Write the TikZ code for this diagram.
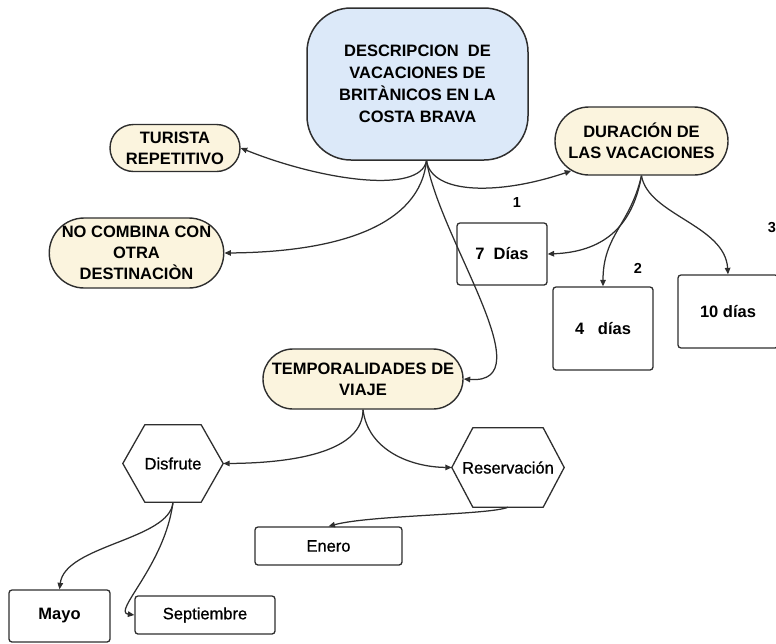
\documentclass[tikz,border=0pt]{standalone}
\usepackage{fontspec}
\setmainfont{Liberation Sans}
\newfontfamily\medfont[FakeBold=0.8]{Liberation Sans}
\usetikzlibrary{arrows.meta,shapes.misc,calc}
\definecolor{edgec}{HTML}{2E2E2E}
\definecolor{mainfill}{HTML}{DCE9F9}
\definecolor{creamfill}{HTML}{FBF4DE}
\begin{document}
\begin{tikzpicture}[x=1pt,y=-1pt,
  mainbox/.style={rectangle, rounded corners=44pt, draw=edgec, line width=1.5pt, fill=mainfill,
    minimum width=221pt, minimum height=152pt, inner sep=0pt, align=center,
    font=\fontsize{16.5}{22}\selectfont\bfseries},
  stad/.style={rounded rectangle, draw=edgec, line width=1.4pt, fill=creamfill, align=center,
    inner sep=0pt, font=\fontsize{16.5}{21}\selectfont\bfseries},
  daybox/.style={rectangle, rounded corners=3pt, draw=edgec, line width=1.3pt, inner sep=0pt,
    font=\fontsize{16.5}{20}\selectfont\bfseries},
  plainbox/.style={rectangle, rounded corners=3pt, draw=edgec, line width=1.3pt, inner sep=0pt,
    font=\fontsize{16.5}{20}\selectfont\medfont},
  hexn/.style={rectangle, draw=none, inner sep=0pt, font=\fontsize{16.5}{20}\selectfont\medfont},
  hexline/.style={draw=edgec, line width=1.3pt, line join=round},
  numlab/.style={inner sep=0pt, font=\fontsize{14.5}{16}\selectfont\bfseries},
  conn/.style={draw=edgec, line width=1.25pt, -{Triangle[length=6.5pt,width=5.5pt]}}
]
\useasboundingbox (0,0) rectangle (776,643);

% nodes
\node[mainbox] (main) at (417.5,84) {DESCRIPCION\ \ DE\\VACACIONES DE\\BRITÀNICOS EN LA\\COSTA BRAVA};
\node[stad, minimum width=130pt, minimum height=47pt] (tur) at (175,148) {TURISTA\\REPETITIVO};
\node[stad, minimum width=173pt, minimum height=70pt] (noc) at (136.5,253) {NO COMBINA CON\\OTRA\\DESTINACIÒN};
\node[stad, minimum width=173pt, minimum height=68pt] (dur) at (641.5,141) {DURACIÓN DE\\LAS VACACIONES};
\node[daybox, minimum width=90pt, minimum height=62pt] (d7) at (502,254) {7\ \ Días};
\node[daybox, minimum width=100pt, minimum height=83pt] (d4) at (603,328.5) {4\ \ \ días};
\node[daybox, minimum width=100pt, minimum height=73pt] (d10) at (728,311.5) {10 días};
\node[numlab] (n1) at (517,203) {1};
\node[numlab] (n2) at (638,268) {2};
\node[numlab] (n3) at (772,228) {3};
\node[stad, minimum width=200pt, minimum height=60pt] (temp) at (363,379) {TEMPORALIDADES DE\\VIAJE};

\node[hexn, minimum width=100pt, minimum height=77pt] (dis) at (173,463.5) {Disfrute};
\draw[hexline] (dis.west) -- ([xshift=22pt]dis.north west) -- ([xshift=-22pt]dis.north east)
  -- (dis.east) -- ([xshift=-22pt]dis.south east) -- ([xshift=22pt]dis.south west) -- cycle;
\node[hexn, minimum width=112pt, minimum height=79pt] (res) at (508,467.5) {Reservación};
\draw[hexline] (res.west) -- ([xshift=21pt]res.north west) -- ([xshift=-21pt]res.north east)
  -- (res.east) -- ([xshift=-21pt]res.south east) -- ([xshift=21pt]res.south west) -- cycle;

\node[plainbox, minimum width=147pt, minimum height=38pt] (ene) at (328.5,546) {Enero};
\node[daybox, minimum width=101pt, minimum height=52pt] (may) at (59.5,616) {Mayo};
\node[plainbox, minimum width=140pt, minimum height=38pt] (sep) at (205,615) {Septiembre};

% connectors
\coordinate (mj) at ([xshift=9pt]main.south);
\draw[conn] (mj) .. controls (420,195) and (320,180) .. (tur.east);
\draw[conn] (mj) .. controls (420,225) and (340,252) .. (noc.east);
\draw[conn] (mj) .. controls (432,195) and (500,195) .. (dur.203);
\draw[conn] (mj) .. controls (440,240) and (545,385) .. (temp.east);

\draw[conn] (dur.south) .. controls (632,230) and (600,252) .. (d7.east);
\draw[conn] (dur.south) .. controls (630,225) and (603,235) .. (d4.north);
\draw[conn] (dur.south) .. controls (648,215) and (725,225) .. (d10.north);

\draw[conn] (temp.south) .. controls (363,450) and (300,463) .. (dis.east);
\draw[conn] (temp.south) .. controls (368,450) and (410,467) .. (res.west);

\draw[conn] (res.south) .. controls (490,515) and (370,515) .. (ene.north);
\draw[conn] (dis.south) .. controls (170,540) and (65,545) .. (may.north);
\draw[conn] (dis.south) .. controls (165,565) and (112,612) .. (sep.west);
\end{tikzpicture}
\end{document}
